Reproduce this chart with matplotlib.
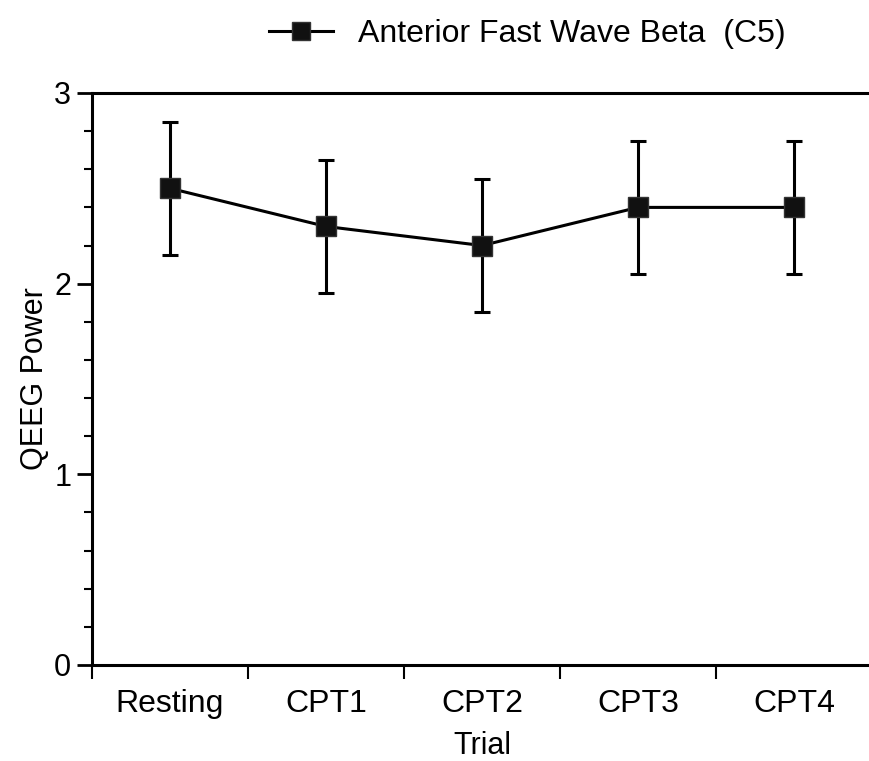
import matplotlib
matplotlib.use("Agg")
import matplotlib.pyplot as plt
from matplotlib.lines import Line2D
import numpy as np

categories = ["Resting", "CPT1", "CPT2", "CPT3", "CPT4"]
values = [2.5, 2.3, 2.2, 2.4, 2.4]
errors = [0.35, 0.35, 0.35, 0.35, 0.35]
series_name = "Anterior Fast Wave Beta  (C5)"

plt.rcParams['font.family'] = ['Liberation Sans', 'DejaVu Sans']

fig = plt.figure(figsize=(8.69, 7.61), dpi=100)
ax = fig.add_axes([92/869, 96/761, 780/869, 572/761])

x = np.arange(len(categories))
ax.errorbar(x, values, yerr=errors, color='black', lw=2.2, elinewidth=2.2,
            capsize=6, capthick=2.2, marker='s', markersize=14,
            markerfacecolor='#111111', markeredgecolor='#333333', zorder=3)

ax.set_xlim(-0.5, 4.5)
ax.set_ylim(0, 3)
ax.set_yticks([0, 1, 2, 3])
ax.set_yticks(np.arange(0, 3.01, 0.2), minor=True)
ax.set_xticks(x)
ax.set_xticklabels(categories, fontsize=23)
ax.set_xticks(np.arange(-0.5, 4.6, 1.0), minor=True)
ax.tick_params(axis='x', which='major', length=0, pad=17)
ax.tick_params(axis='x', which='minor', length=10, width=1.5, direction='out')
ax.tick_params(axis='y', which='major', length=11, width=2, labelsize=22, pad=4)
ax.tick_params(axis='y', which='minor', length=5.5, width=1.5)

for s in ['left', 'bottom', 'top']:
    ax.spines[s].set_linewidth(2.2)
ax.spines['right'].set_visible(False)

ax.set_ylabel("QEEG Power", fontsize=22, labelpad=3)
ax.set_xlabel("Trial", fontsize=22, labelpad=9)

handle = Line2D([], [], color='black', lw=2.2, marker='s', markersize=13,
                markerfacecolor='#111111', markeredgecolor='#333333')
fig.legend([handle], [series_name], loc='center', bbox_to_anchor=(0.607, 0.955),
           frameon=False, fontsize=23, handlelength=2.0, handletextpad=0.8)

fig.savefig("out.png", dpi=100, facecolor='white')
